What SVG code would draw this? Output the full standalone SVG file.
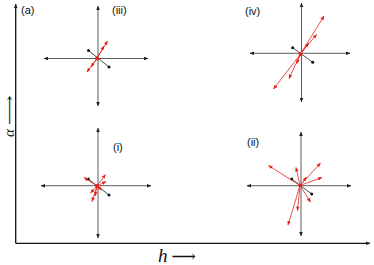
<svg xmlns="http://www.w3.org/2000/svg" width="374" height="265" viewBox="0 0 374 265">
<defs>
<marker id="ak" viewBox="0 0 10 10" refX="9" refY="5" markerWidth="4.5" markerHeight="4.5" markerUnits="userSpaceOnUse" orient="auto-start-reverse"><path d="M0,1 L10,5 L0,9 Z" fill="#222"/></marker>
<marker id="ar" viewBox="0 0 10 10" refX="9" refY="5" markerWidth="4.5" markerHeight="4.5" markerUnits="userSpaceOnUse" orient="auto"><path d="M0,1 L10,5 L0,9 Z" fill="#e8231c"/></marker>
</defs>
<style>
.main{stroke:#111;stroke-width:1.3;fill:none}
.ax{stroke:#333;stroke-width:0.8;fill:none;marker-start:url(#ak);marker-end:url(#ak)}
.r{stroke:#e8231c;stroke-width:0.8;fill:none;marker-end:url(#ar)}
.b{stroke:#333;stroke-width:0.9}
.d{fill:#111}
.lb{font-family:"Liberation Sans",Arial,sans-serif;font-size:11px;fill:#111}
.sl{font-family:"Liberation Serif","DejaVu Serif",serif;fill:#111}
</style>
<g id="frame">
<path class="main" d="M15.7,243.3 H370" marker-end="url(#ak)"/>
<path class="main" d="M15.7,243.3 V4" marker-end="url(#ak)"/>
<text class="lb" x="21" y="14">(a)</text>
<text class="sl" x="158" y="262" font-size="19"><tspan font-style="italic">h</tspan><tspan font-size="17" dx="4">⟶</tspan></text>
<text class="sl" transform="translate(14,137) rotate(-90)" font-size="15"><tspan font-style="italic">α</tspan><tspan dx="4" font-size="13" textLength="30" lengthAdjust="spacingAndGlyphs">⟶</tspan></text>
</g>
<g id="panel-iii">
<path class="ax" d="M98,106 V6"/>
<path class="ax" d="M44,58.5 H148"/>
<line class="b" x1="88.5" y1="50.5" x2="109" y2="67"/>
<circle class="d" cx="88.5" cy="50.5" r="1.5"/><circle class="d" cx="109" cy="67" r="1.5"/>
<path class="r" d="M97,58.5 L107.5,41"/>
<path class="r" d="M97,58.5 L104,46"/>
<path class="r" d="M97,58.5 L87,72"/>
<path class="r" d="M97,58.5 L91,67"/>
<circle cx="97" cy="58.5" r="2" fill="#e8231c"/>
<text class="lb" x="112" y="14">(iii)</text>
</g>
<g id="panel-iv">
<path class="ax" d="M301.5,102 V3"/>
<path class="ax" d="M250,53.3 H350"/>
<line class="b" x1="292.7" y1="47.7" x2="312.7" y2="62.3"/>
<circle class="d" cx="292.7" cy="47.7" r="1.5"/><circle class="d" cx="312.7" cy="62.3" r="1.5"/>
<path class="r" d="M300.5,54 L324,16"/>
<path class="r" d="M300.5,54 L316.5,34.5"/>
<path class="r" d="M300.5,54 L308.5,43"/>
<path class="r" d="M300.5,54 L273.5,89"/>
<path class="r" d="M300.5,54 L289,78.5"/>
<path class="r" d="M300.5,54 L296.5,63.5"/>
<circle cx="300.5" cy="54" r="2" fill="#e8231c"/>
<text class="lb" x="245" y="15">(iv)</text>
</g>
<g id="panel-i">
<path class="ax" d="M98,238 V128"/>
<path class="ax" d="M41,185.7 H151"/>
<line class="b" x1="88.3" y1="179" x2="109" y2="195"/>
<circle class="d" cx="88.3" cy="179" r="1.5"/><circle class="d" cx="109" cy="195" r="1.5"/>
<path class="r" d="M97,186 L84,177.5"/>
<path class="r" d="M97,186 L105.5,174.5"/>
<path class="r" d="M97,186 L106,181.5"/>
<path class="r" d="M97,186 L92,201.5"/>
<path class="r" d="M97,186 L95,196"/>
<path class="r" d="M97,186 L102,190"/>
<path class="r" d="M97,186 L90.5,193"/>
<circle cx="97" cy="186" r="2" fill="#e8231c"/>
<text class="lb" x="113" y="151">(i)</text>
</g>
<g id="panel-ii">
<path class="ax" d="M301,236 V132"/>
<path class="ax" d="M247,185.7 H351"/>
<line class="b" x1="291.7" y1="179" x2="311.7" y2="194"/>
<circle class="d" cx="291.7" cy="179" r="1.5"/><circle class="d" cx="311.7" cy="194" r="1.5"/>
<path class="r" d="M300,185.5 L268.5,165.5"/>
<path class="r" d="M300,185.5 L296,167.5"/>
<path class="r" d="M300,185.5 L320.5,163"/>
<path class="r" d="M300,185.5 L322,177.5"/>
<path class="r" d="M300,185.5 L306.5,177"/>
<path class="r" d="M300,185.5 L310.5,202"/>
<path class="r" d="M300,185.5 L297.5,210.5"/>
<path class="r" d="M300,185.5 L288,225"/>
<circle cx="300" cy="185.5" r="1.6" fill="#e8231c"/>
<text class="lb" x="247" y="146">(ii)</text>
</g>
</svg>
